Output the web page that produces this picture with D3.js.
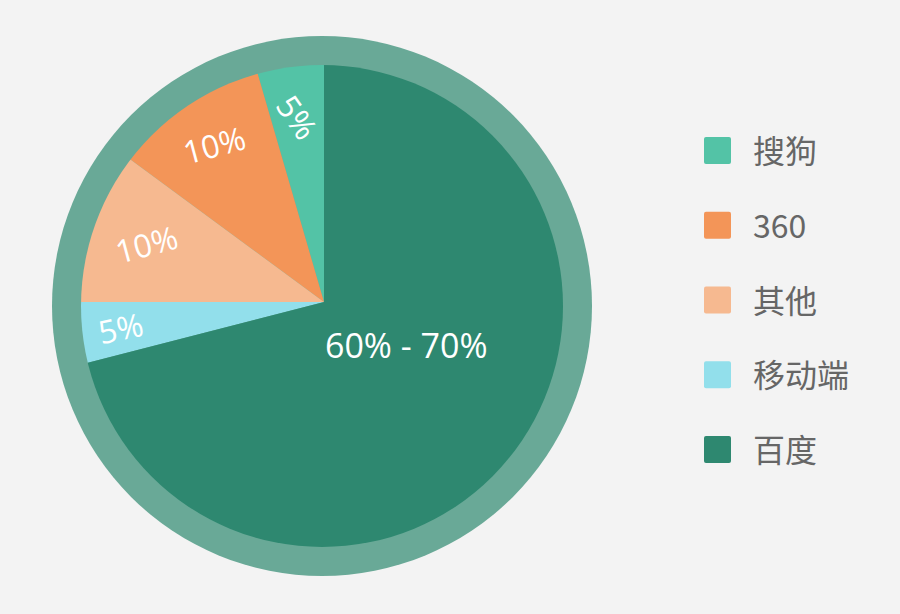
<!DOCTYPE html>
<html>
<head>
<meta charset="utf-8">
<script src="https://cdn.jsdelivr.net/npm/d3@7/dist/d3.min.js"></script>
<style>
  html, body { margin: 0; padding: 0; background: #f3f3f3; }
  svg { display: block; }
</style>
</head>
<body>
<svg id="chart" width="900" height="614"></svg>
<script>
// ---- data ----
const categories = ["搜狗", "360", "其他", "移动端", "百度"];
const sliceValues = [4.5, 10.4, 10.1, 4.0, 71.0];
const sliceLabels = ["5%", "10%", "10%", "5%", "60% - 70%"];
const colors = ["#53c3a6", "#f39558", "#f6b990", "#92dfeb", "#2e8870"];

// ---- layout ----
const svg = d3.select("#chart");
const W = 900, H = 614;
const circleCenter = { x: 322, y: 306 };
const apex = { x: 324, y: 302 };
const ringR = 270, pieR = 241;

svg.append("rect").attr("width", W).attr("height", H).attr("fill", "#f3f3f3");

// outer ring
svg.append("circle")
  .attr("cx", circleCenter.x).attr("cy", circleCenter.y).attr("r", ringR)
  .attr("fill", "#69a997");

// clip for the pie
svg.append("defs").append("clipPath").attr("id", "pieClip")
  .append("circle")
  .attr("cx", circleCenter.x - apex.x).attr("cy", circleCenter.y - apex.y).attr("r", pieR);

const pie = d3.pie().sort(null).startAngle(0).endAngle(-2 * Math.PI);
const arcs = pie(sliceValues);
const arc = d3.arc().innerRadius(0).outerRadius(pieR + 20);

const g = svg.append("g").attr("transform", `translate(${apex.x},${apex.y})`);
g.append("g").attr("clip-path", "url(#pieClip)")
  .selectAll("path").data(arcs).join("path")
  .attr("d", arc)
  .attr("fill", (d, i) => colors[i]);

// labels (angle offsets in degrees relative to the slice middle)
const labelStyle = [
  { r: 187, da: 0, rot: 55, size: 32 },
  { r: 192, da: 0, rot: -15, size: 32 },
  { r: 187, da: 0, rot: -15, size: 32 },
  { r: 205, da: 0, rot: -12, size: 32 },
  { r: 93, da: -10, rot: 0, size: 34 }
];
function labelPos(d, i) {
  const s = labelStyle[i];
  const a = (d.startAngle + d.endAngle) / 2 + s.da * Math.PI / 180;
  return [s.r * Math.sin(a), -s.r * Math.cos(a)];
}
g.selectAll("text.lbl").data(arcs).join("text")
  .attr("class", "lbl")
  .attr("transform", (d, i) => {
    const [x, y] = labelPos(d, i);
    return `translate(${x},${y}) rotate(${labelStyle[i].rot})`;
  })
  .attr("text-anchor", "middle")
  .attr("dominant-baseline", "central")
  .attr("fill", "#ffffff")
  .attr("font-family", "'Open Sans', 'Noto Sans CJK SC', sans-serif")
  .attr("font-size", (d, i) => labelStyle[i].size)
  .text((d, i) => sliceLabels[i]);

// legend
const legendY = d3.scalePoint().domain(categories).range([150, 449]);
const legend = svg.append("g");
const items = legend.selectAll("g").data(categories).join("g")
  .attr("transform", d => `translate(0,${legendY(d)})`);
items.append("rect")
  .attr("x", 704).attr("y", -13).attr("width", 27).attr("height", 27)
  .attr("rx", 2).attr("fill", (d, i) => colors[i]);
items.append("text")
  .attr("x", 753).attr("y", -1)
  .attr("dominant-baseline", "central")
  .attr("fill", "#666666")
  .attr("font-family", "'Noto Sans CJK SC', sans-serif")
  .attr("font-size", 32)
  .text(d => d);
</script>
</body>
</html>
